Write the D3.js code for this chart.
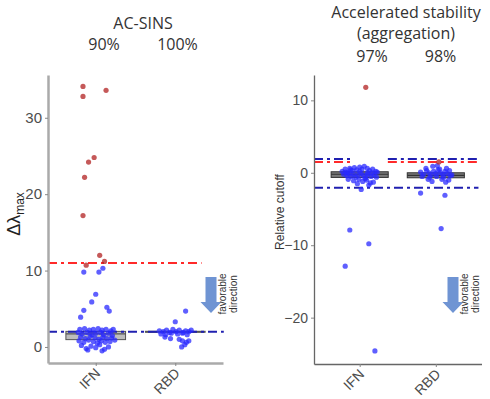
<!DOCTYPE html>
<html>
<head>
<meta charset="utf-8">
<script src="https://cdn.jsdelivr.net/npm/d3@7"></script>
<style>
  body { margin: 0; background: #fff; }
  svg { display: block; }
  .tick text { font-family: "Liberation Sans", Arial, sans-serif; fill: #4d4d4d; }
  .title { font-family: "Open Sans", sans-serif; fill: #333; }
</style>
</head>
<body>
<div id="chart"></div>
<script>
// groups on the x axis
var groups = ["IFN", "RBD"];

// AC-SINS (delta lambda max), points as [jitter, value]
var sinsIfnFail = [[-0.16, 34.1], [-0.16, 32.8], [0.13, 33.6], [-0.02, 24.8], [-0.09, 24.2],
  [-0.14, 22.2], [-0.16, 17.2], [0.05, 12.0], [0.11, 11.2], [-0.12, 10.7]];
var sinsIfnPass = [[-0.15, 9.8], [0.04, 9.8], [0.09, 10.3], [0.0, 6.9], [-0.05, 5.9], [-0.15, 4.8],
  [0.14, 5.2], [0.17, 4.7], [-0.19, 3.9],
  [-0.2, 2.3], [-0.14, 2.4], [-0.08, 2.2], [-0.03, 2.3], [0.03, 2.4], [0.08, 2.2], [0.13, 2.3], [0.19, 2.1], [0.22, 2.3],
  [-0.22, 1.9], [-0.17, 1.7], [-0.11, 1.9], [-0.05, 1.6], [0.0, 1.8], [0.06, 1.9], [0.1, 1.6], [0.16, 1.8], [0.21, 1.5],
  [-0.19, 1.3], [-0.13, 1.1], [-0.07, 1.4], [-0.01, 1.2], [0.04, 1.0], [0.09, 1.3], [0.14, 1.1], [0.2, 1.2], [0.24, 0.9],
  [-0.21, 0.8], [-0.15, 0.6], [-0.09, 0.9], [-0.03, 0.7], [0.02, 0.5], [0.07, 0.8], [0.12, 0.6], [0.18, 0.7],
  [-0.18, 0.2], [-0.12, -0.2], [-0.06, 0.1], [0.0, -0.1], [0.05, 0.3], [0.11, -0.3], [0.16, 0.0], [-0.1, -0.4], [0.08, -0.5]];
var sinsRbdFail = [];
var sinsRbdPass = [[0.0, 3.3], [0.13, 4.7],
  [-0.2, 2.1], [-0.15, 2.0], [-0.11, 2.2], [-0.07, 1.9], [-0.03, 2.3], [0.01, 2.0], [0.05, 2.2], [0.09, 1.8], [0.13, 2.1], [0.17, 2.0], [0.2, 2.2],
  [-0.18, 1.7], [-0.12, 1.6], [-0.05, 1.8], [0.03, 1.7], [0.1, 1.9], [0.15, 1.6],
  [-0.13, 1.3], [0.05, 1.0], [0.09, 0.8], [0.14, 0.6], [0.12, 0.3], [0.17, 0.8], [0.08, 0.0], [-0.06, 1.1]];
// boxes: [q1, median, q3]
var sinsBoxes = [[0.96, 1.7, 2.04], [1.95, 2.0, 2.05]];
var sinsTicks = [0, 10, 20, 30];
var sinsPctLabels = ["90%", "100%"];

// Accelerated stability (aggregation), relative cutoff
var aggIfnFail = [[0.08, 11.8]];
var aggIfnPass = [[-0.13, -7.9], [0.12, -9.8], [-0.19, -12.9], [0.2, -24.6], [0.02, -2.3],
  [-0.23, 0.2], [-0.19, 0.5], [-0.16, 0.0], [-0.13, 0.6], [-0.1, 0.3], [-0.07, 0.7], [-0.04, 0.4], [0.0, 0.8], [0.03, 0.5], [0.06, 0.9], [0.1, 0.6], [0.13, 0.3], [0.17, 0.5], [0.21, 0.2], [0.23, 0.1],
  [-0.21, -0.2], [-0.17, -0.4], [-0.14, -0.1], [-0.11, -0.5], [-0.08, -0.2], [-0.05, -0.6], [-0.02, -0.3], [0.02, -0.1], [0.05, -0.4], [0.08, -0.7], [0.11, -0.2], [0.15, -0.5], [0.19, -0.3], [0.22, -0.6],
  [-0.15, -0.9], [-0.08, -1.1], [-0.01, -0.9], [0.04, -1.2], [0.09, -1.0], [0.14, -1.4], [0.18, -1.3], [0.12, -1.7], [-0.03, -1.5], [0.07, -0.8],
  [-0.18, 0.1], [0.0, 0.2], [0.16, 0.0], [-0.12, 0.4], [0.1, -0.05]];
var aggRbdFail = [[0.04, 1.5]];
var aggRbdPass = [[0.07, -7.7], [-0.2, -2.8], [0.12, -3.1],
  [-0.2, 0.1], [-0.16, -0.2], [-0.12, 0.3], [-0.09, 0.0], [-0.06, -0.3], [-0.03, 0.2], [0.0, -0.1], [0.03, 0.4], [0.06, 0.0], [0.09, -0.2], [0.12, 0.2], [0.15, -0.1], [0.18, 0.3], [0.21, -0.3],
  [-0.18, -0.5], [-0.13, 0.6], [-0.08, -0.6], [-0.04, 0.9], [0.01, -0.5], [0.05, 0.5], [0.1, -0.6], [0.14, 0.6], [0.19, -0.4],
  [-0.05, -1.2], [0.13, -1.3], [0.17, -1.0], [0.08, -0.9], [-0.1, -0.9], [0.02, 1.0]];
var aggBoxes = [[-0.64, -0.2, 0.14], [-0.69, -0.35, 0.0]];
var aggTicks = [-20, -10, 0, 10];
var aggPctLabels = ["97%", "98%"];

// cutoff lines: [value, x start, x end] with x in group units (IFN = 1, RBD = 2)
var sinsRedLines = [[11.0, 0.4, 2.33]];
var sinsBlueLines = [[2.0, 0.4, 2.61]];
var aggRedLines = [[1.5, 0.4, 0.88], [1.5, 1.37, 2.56]];
var aggBlueLines = [[1.9, 0.4, 0.88], [1.9, 1.37, 2.56], [-2.05, 0.4, 2.56]];

var width = 490, height = 399;
var svg = d3.select("#chart").append("svg").attr("width", width).attr("height", height);

function panel(opt) {
  var x = d3.scaleLinear().domain([0.4, 2.6]).range([opt.left, opt.right]);
  var y = d3.scaleLinear().domain(opt.ydom).range([opt.bottom, opt.top]);
  var g = svg.append("g");

  // boxes
  g.selectAll(".box").data(opt.boxes).enter().append("rect")
    .attr("x", function(d, i) { return x(i + 1 - 0.375); })
    .attr("width", x(1.75) - x(1))
    .attr("y", function(d) { return y(d[2]); })
    .attr("height", function(d) { return Math.max(1, y(d[0]) - y(d[2])); })
    .attr("fill", opt.boxFill).attr("stroke", opt.boxStroke).attr("stroke-width", 1);
  g.selectAll(".med").data(opt.boxes).enter().append("line")
    .attr("x1", function(d, i) { return x(i + 1 - 0.375); })
    .attr("x2", function(d, i) { return x(i + 1 + 0.375); })
    .attr("y1", function(d) { return y(d[1]); })
    .attr("y2", function(d) { return y(d[1]); })
    .attr("stroke", opt.boxStroke).attr("stroke-width", 1.2);

  // cutoff lines
  function lines(data, color) {
    g.selectAll(null).data(data).enter().append("line")
      .attr("x1", function(d) { return x(d[1]); })
      .attr("x2", function(d) { return x(d[2]); })
      .attr("y1", function(d) { return y(d[0]); })
      .attr("y2", function(d) { return y(d[0]); })
      .attr("stroke", color).attr("stroke-width", 2)
      .attr("stroke-dasharray", "9,4,3,4");
  }
  lines(opt.redLines, "#ff2a2a");
  lines(opt.blueLines, "#2020b0");

  // points
  function pts(data, gi, color) {
    g.selectAll(null).data(data).enter().append("circle")
      .attr("cx", function(d) { return x(gi + d[0]); })
      .attr("cy", function(d) { return y(d[1]); })
      .attr("r", 2.6)
      .attr("fill", color).attr("fill-opacity", 0.75);
  }
  pts(opt.pass[0], 1, "#2a2aff");
  pts(opt.pass[1], 2, "#2a2aff");
  pts(opt.fail[0], 1, "#b22222");
  pts(opt.fail[1], 2, "#b22222");

  // axes
  var ya = g.append("g").attr("transform", "translate(" + opt.left + ",0)")
    .call(d3.axisLeft(y).tickValues(opt.ticks).tickSize(3).tickSizeOuter(0).tickPadding(3)
      .tickFormat(function(d) { return d < 0 ? "\u2212" + Math.abs(d) : d; }));
  ya.select(".domain").attr("stroke", opt.axisColor).attr("stroke-width", opt.axisWidth);
  ya.selectAll(".tick line").attr("stroke", "#888");
  ya.selectAll(".tick text").style("font-size", opt.tickFont + "px");

  var xa = g.append("g").attr("transform", "translate(0," + opt.bottom + ")")
    .call(d3.axisBottom(x).tickValues([1, 2]).tickSize(3).tickSizeOuter(0)
      .tickFormat(function(d) { return groups[d - 1]; }));
  xa.select(".domain").attr("stroke", opt.axisColor).attr("stroke-width", opt.axisWidth);
  xa.selectAll(".tick line").attr("stroke", "#888");
  xa.selectAll(".tick text")
    .style("font-size", "14px")
    .attr("text-anchor", "end")
    .attr("dy", null)
    .attr("y", 0)
    .attr("transform", "translate(5,11) rotate(-45)");

  // percentage labels
  g.selectAll(null).data(opt.pct).enter().append("text")
    .attr("class", "title")
    .attr("x", function(d, i) { return opt.pctX[i]; })
    .attr("y", opt.pctY)
    .attr("text-anchor", "middle")
    .style("font-size", "16px")
    .text(function(d) { return d; });

  // favorable direction arrow
  var ax = opt.arrowX, ay = opt.arrowY;
  g.append("path")
    .attr("d", "M" + (ax - 5.5) + "," + ay + "h11v25h5l-10.5,11l-10.5,-11h5z")
    .attr("fill", "#6f94d3");
  var ft = g.append("text")
    .attr("transform", "translate(" + (ax + 15) + "," + (ay + 17) + ") rotate(-90)")
    .attr("text-anchor", "middle")
    .style("font-family", "'Liberation Sans', Arial, sans-serif")
    .style("font-size", "10px").attr("fill", "#333");
  ft.append("tspan").attr("x", 0).attr("dy", 0).text("favorable");
  ft.append("tspan").attr("x", 0).attr("dy", 11).text("direction");
  return g;
}

var left = panel({
  left: 48, right: 223, top: 75, bottom: 363, ydom: [-2.1, 35.6],
  boxes: sinsBoxes, boxFill: "#bdbdbd", boxStroke: "#555",
  redLines: sinsRedLines, blueLines: sinsBlueLines,
  pass: [sinsIfnPass, sinsRbdPass], fail: [sinsIfnFail, sinsRbdFail],
  ticks: sinsTicks, axisColor: "#aaa", axisWidth: 2.5, tickFont: 15,
  pct: sinsPctLabels, pctX: [104, 177.5], pctY: 50,
  arrowX: 211, arrowY: 277
});
var right = panel({
  left: 314, right: 481.5, top: 75, bottom: 364, ydom: [-26.4, 13.5],
  boxes: aggBoxes, boxFill: "#7a7a7a", boxStroke: "#333",
  redLines: aggRedLines, blueLines: aggBlueLines,
  pass: [aggIfnPass, aggRbdPass], fail: [aggIfnFail, aggRbdFail],
  ticks: aggTicks, axisColor: "#666", axisWidth: 1.3, tickFont: 14,
  pct: aggPctLabels, pctX: [372, 440.5], pctY: 62,
  arrowX: 453, arrowY: 277
});

// titles
svg.append("text").attr("class", "title").attr("x", 143).attr("y", 29)
  .attr("text-anchor", "middle").style("font-size", "16px").text("AC-SINS");
svg.append("text").attr("class", "title").attr("x", 406).attr("y", 18)
  .attr("text-anchor", "middle").style("font-size", "16px").text("Accelerated stability");
svg.append("text").attr("class", "title").attr("x", 406).attr("y", 39)
  .attr("text-anchor", "middle").style("font-size", "16px").text("(aggregation)");

// y axis titles
var yl = svg.append("text")
  .attr("transform", "translate(20,214) rotate(-90)")
  .attr("text-anchor", "middle")
  .style("font-family", "'Liberation Sans', Arial, sans-serif")
  .attr("fill", "#222");
yl.append("tspan").style("font-size", "18px").text("\u0394\u03bb");
yl.append("tspan").style("font-size", "12px").attr("dy", 4).text("max");

svg.append("text")
  .attr("transform", "translate(284,212) rotate(-90)")
  .attr("text-anchor", "middle")
  .style("font-family", "'Liberation Sans', Arial, sans-serif")
  .style("font-size", "12px").attr("fill", "#333")
  .text("Relative cutoff");
</script>
</body>
</html>
